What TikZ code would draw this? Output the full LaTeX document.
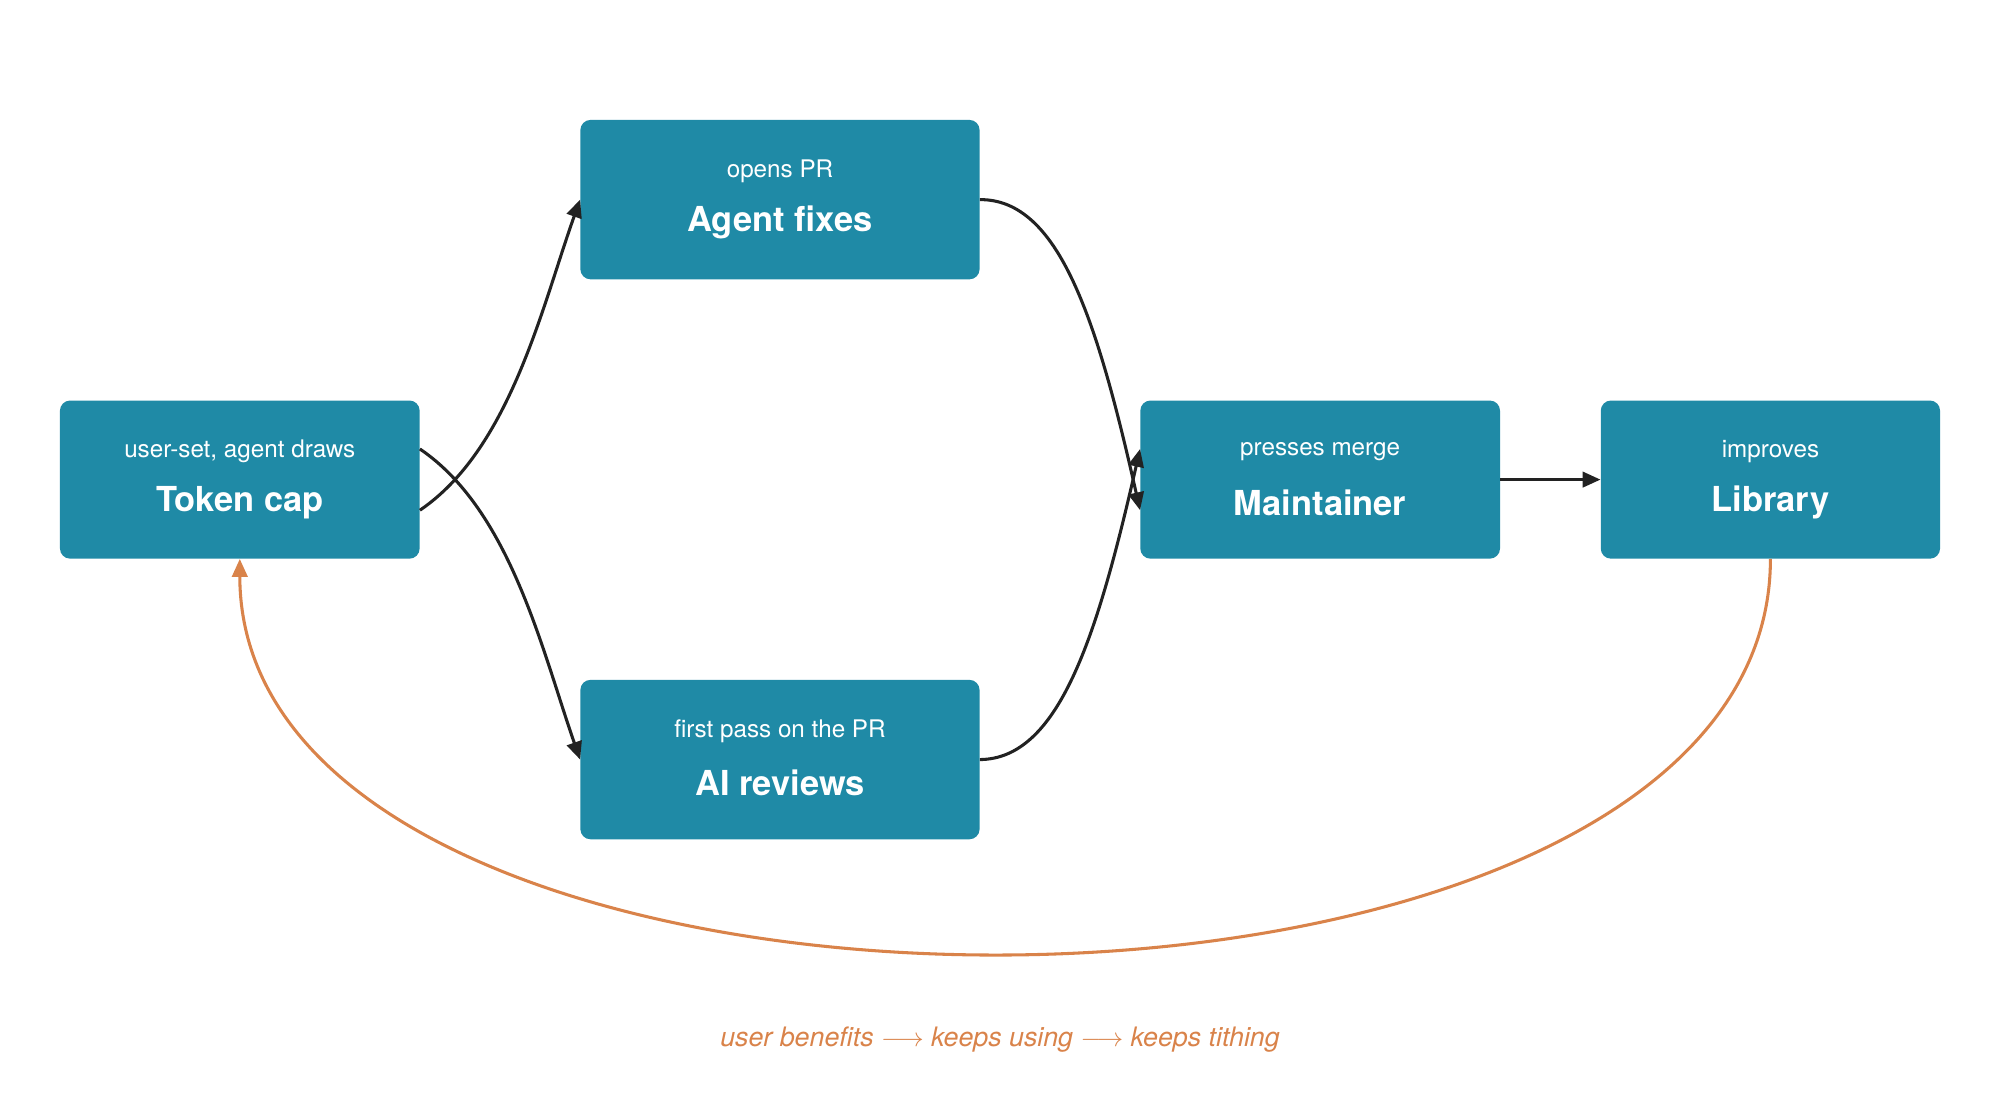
\documentclass[tikz,border=0pt]{standalone}
\usepackage{fontspec}
\setmainfont{TeX Gyre Heros}
\usetikzlibrary{arrows.meta}
\definecolor{teal}{HTML}{1F8AA6}
\definecolor{org}{HTML}{D9834A}
\definecolor{ink}{HTML}{222222}
\begin{document}
\begin{tikzpicture}[x=1pt,y=-1pt,
 box/.style={fill=teal,rounded corners=8pt,inner sep=0pt,text=white,align=center},
 ttl/.style={font=\fontsize{27}{30}\selectfont\bfseries},
 sub/.style={font=\fontsize{19}{22}\selectfont},
 arr/.style={draw=ink,line width=2.4pt,-{Triangle[length=14pt,width=12pt]}},
 back/.style={draw=org,line width=2.4pt,-{Triangle[length=14pt,width=12pt]}}]
\useasboundingbox (0,0) rectangle (1568,878);
\node[box,minimum width=282pt,minimum height=124pt] (tok) at (188,376) {};
\node[box,minimum width=313pt,minimum height=125pt] (agt) at (611.5,156.5) {};
\node[box,minimum width=313pt,minimum height=125pt] (ai) at (611.5,595.5) {};
\node[box,minimum width=282pt,minimum height=124pt] (mnt) at (1035,376) {};
\node[box,minimum width=266pt,minimum height=124pt] (lib) at (1388,376) {};
\foreach \n/\t/\s in {tok/Token cap/{user-set, agent draws},agt/Agent fixes/opens PR,ai/AI reviews/first pass on the PR,mnt/Maintainer/presses merge,lib/Library/improves}{
 \node[ttl,text=white] (\n t) at ([yshift=-18pt]\n.center) {\t};
 \node[sub,text=white] (\n s) at ([yshift=22pt]\n.center) {\s};
}
\coordinate (a1) at ([yshift=-24pt]tok.east);
\coordinate (a2) at ([yshift=24pt]tok.east);
\coordinate (m1) at ([yshift=-24pt]mnt.west);
\coordinate (m2) at ([yshift=24pt]mnt.west);
\draw[arr] (a1) .. controls (400,352) and (425,240) .. (agt.west);
\draw[arr] (a2) .. controls (400,400) and (425,510) .. (ai.west);
\draw[arr] (agt.east) .. controls (830,156) and (860,250) .. (m1);
\draw[arr] (ai.east) .. controls (830,595) and (860,500) .. (m2);
\draw[arr] (mnt.east) -- (lib.west);
\draw[back] (lib.south) .. controls (1388,850) and (188,850) .. (tok.south);
\node[font=\fontsize{21}{24}\selectfont\itshape,text=org] (cap) at (784,815) {user benefits $\longrightarrow$ keeps using $\longrightarrow$ keeps tithing};
\end{tikzpicture}
\end{document}
